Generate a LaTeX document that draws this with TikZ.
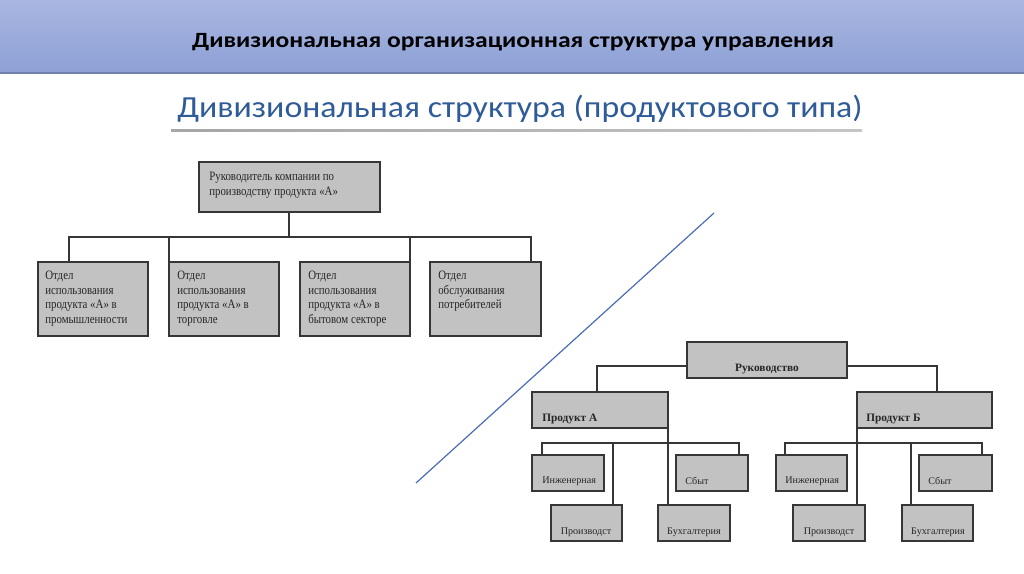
\documentclass[tikz,border=0pt]{standalone}
\usepackage{fontspec}
\setmainfont{Liberation Serif}
\newfontfamily\calib{Carlito}
\usetikzlibrary{calc}
\definecolor{boxfill}{HTML}{C2C2C2}
\definecolor{boxline}{HTML}{363636}
\definecolor{txtgray}{HTML}{262626}
\definecolor{bandtop}{HTML}{A9B6E0}
\definecolor{bandbot}{HTML}{8DA1D6}
\definecolor{subblue}{HTML}{2F5C99}
\definecolor{diagblue}{HTML}{4A6DB8}
\tikzset{
  unit box/.style={draw=boxline, line width=1.3pt, fill=boxfill},
  conn/.style={draw=boxline, line width=0.8pt},
  ltxt/.style={font=\fontsize{9.6}{11}\selectfont, text=txtgray, align=left, anchor=north west, inner sep=0pt},
  rtxt/.style={font=\fontsize{7.6}{9}\selectfont, text=txtgray, inner sep=0pt},
  btxt/.style={font=\fontsize{8.5}{10}\selectfont\bfseries, text=txtgray, inner sep=0pt},
}
\newcommand{\narrow}[1]{\scalebox{0.85}[1]{\begin{tabular}{@{}l@{}}#1\end{tabular}}}
\begin{document}
\begin{tikzpicture}[x=0.75pt,y=-0.75pt]
\useasboundingbox (0,0) rectangle (1024,574);
\fill[white] (0,0) rectangle (1024,574);
% header band
\shade[top color=bandtop, bottom color=bandbot] (0,0) rectangle (1024,73);
\draw[color=bandbot!80!black, line width=0.8pt] (0,73) -- (1024,73);
\node[font=\calib\bfseries\fontsize{16.3}{19}\selectfont, inner sep=0pt] (title) at (513,42) {\scalebox{1.176}[1]{Дивизиональная организационная структура управления}};
% subtitle
\node[font=\calib\fontsize{23}{27}\selectfont, text=subblue, inner sep=0pt] (subtitle) at (520,109) {\scalebox{1.103}[1]{Дивизиональная структура (продуктового типа)}};
\shade[left color=gray!70, right color=gray!45] (171,129.5) rectangle (862,131.5);

% ===== left chart =====
\path[unit box] (199,162) rectangle (380,212);
\coordinate (topc) at (289,212);
\node[ltxt] (toptext) at (209,170) {\narrow{Руководитель компании по\\производству продукта «А»}};

\path[unit box] (38,262) rectangle (148,336);
\path[unit box] (169,262) rectangle (279,336);
\path[unit box] (300,262) rectangle (410,336);
\path[unit box] (430,262) rectangle (541,336);
\node[ltxt] (d1) at (45,269) {\narrow{Отдел\\использования\\продукта «А» в\\промышленности}};
\node[ltxt] (d2) at (177,269) {\narrow{Отдел\\использования\\продукта «А» в\\торговле}};
\node[ltxt] (d3) at (308,269) {\narrow{Отдел\\использования\\продукта «А» в\\бытовом секторе}};
\node[ltxt] (d4) at (438,269) {\narrow{Отдел\\обслуживания\\потребителей}};

\coordinate (bus) at (289,237);
\draw[conn] (topc) -- (bus);
\draw[conn] (69,262) -- (69,237) -- (531,237) -- (531,262);
\draw[conn] (169,237) -- (169,262);
\draw[conn] (410,237) -- (410,262);

% diagonal
\coordinate (dgA) at (416,483);
\coordinate (dgB) at (714,213);
\draw[diagblue, line width=0.9pt] (dgA) -- (dgB);

% ===== right chart =====
\draw[conn] (597,392) -- (597,366) -- (687,366);
\draw[conn] (847,366) -- (937,366) -- (937,392);
\draw[conn] (668,428) -- (668,505);
\draw[conn] (542,455) -- (542,443) -- (739,443) -- (739,455);
\draw[conn] (613,443) -- (613,505);
\draw[conn] (857,428) -- (857,505);
\draw[conn] (785,455) -- (785,443) -- (982,443) -- (982,455);
\draw[conn] (911,443) -- (911,505);

\path[unit box] (687,342) rectangle (847,378);
\node[btxt] (ruk) at (767,369) {Руководство};

\path[unit box] (532,392) rectangle (668,428);
\node[btxt, anchor=west] (pa) at (542,419) {Продукт А};
\path[unit box] (857,392) rectangle (992,428);
\node[btxt, anchor=west] (pb) at (866,419) {Продукт Б};

\path[unit box] (532,455) rectangle (604,491);
\node[rtxt, anchor=west] (ia) at (542,481) {Инженерная};
\path[unit box] (676,455) rectangle (748,491);
\node[rtxt, anchor=west] (sa) at (685,481) {Сбыт};
\path[unit box] (551,505) rectangle (622,541);
\node[rtxt] (pra) at (586,532) {Производст};
\path[unit box] (658,505) rectangle (730,541);
\node[rtxt] (ba) at (694,532) {Бухгалтерия};

\path[unit box] (776,455) rectangle (847,491);
\node[rtxt, anchor=west] (ib) at (785,481) {Инженерная};
\path[unit box] (919,455) rectangle (992,491);
\node[rtxt, anchor=west] (sb) at (928,481) {Сбыт};
\path[unit box] (793,505) rectangle (865,541);
\node[rtxt] (prb) at (829,532) {Производст};
\path[unit box] (902,505) rectangle (973,541);
\node[rtxt] (bb) at (938,532) {Бухгалтерия};
\end{tikzpicture}
\end{document}
